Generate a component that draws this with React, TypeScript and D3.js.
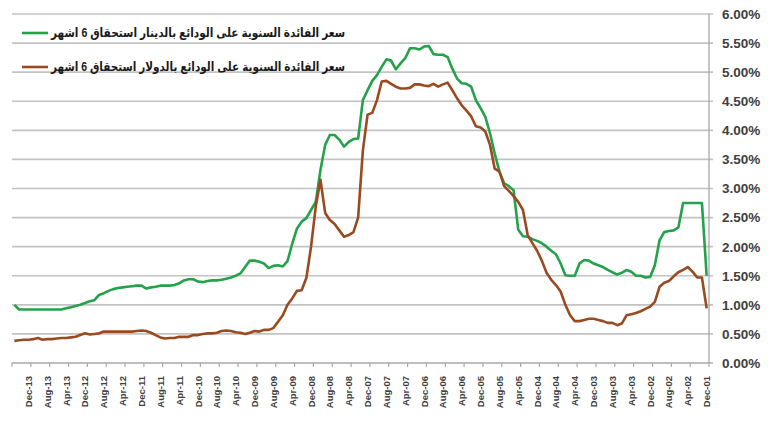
import React from 'react';
import * as d3 from 'd3';

// monthly data, Dec-01 .. Mar-14 (chronological), percent
const startMonth = new Date(2001, 11, 1);
const endMonth = new Date(2014, 3, 1);
const months = d3.timeMonth.range(startMonth, endMonth);

const dinarRate = [
  1.5, 2.75, 2.75, 2.75, 2.75, 2.75, 2.33, 2.28, 2.27, 2.25, 2.11, 1.68,
  1.48, 1.47, 1.5, 1.5, 1.57, 1.6, 1.55, 1.52, 1.56, 1.6, 1.65, 1.68,
  1.71, 1.76, 1.77, 1.71, 1.5, 1.5, 1.51, 1.71, 1.87, 1.93, 2.0, 2.06,
  2.1, 2.13, 2.17, 2.18, 2.29, 2.97, 3.04, 3.09, 3.29, 3.6, 3.95, 4.23,
  4.38, 4.52, 4.75, 4.8, 4.81, 4.89, 5.06, 5.26, 5.3, 5.3, 5.31, 5.45,
  5.44, 5.39, 5.41, 5.41, 5.24, 5.15, 5.05, 5.2, 5.22, 5.09, 4.95, 4.85,
  4.69, 4.52, 3.86, 3.85, 3.8, 3.72, 3.84, 3.92, 3.92, 3.75, 3.32, 2.77,
  2.63, 2.49, 2.43, 2.31, 2.05, 1.75, 1.66, 1.68, 1.67, 1.63, 1.71, 1.74,
  1.76, 1.76, 1.65, 1.54, 1.5, 1.47, 1.45, 1.43, 1.42, 1.42, 1.41, 1.39,
  1.4, 1.44, 1.44, 1.42, 1.37, 1.34, 1.33, 1.33, 1.33, 1.31, 1.3, 1.28,
  1.33, 1.33, 1.32, 1.31, 1.3, 1.29, 1.27, 1.24, 1.2, 1.17, 1.08, 1.06,
  1.03, 1.0, 0.98, 0.96, 0.94, 0.92, 0.92, 0.92, 0.92, 0.92, 0.92, 0.92,
  0.92, 0.92, 0.92, 1.0,
];

const dollarRate = [
  0.94, 1.47, 1.47, 1.57, 1.65, 1.6, 1.56, 1.49, 1.41, 1.38, 1.31, 1.05,
  0.97, 0.93, 0.89, 0.86, 0.84, 0.82, 0.68, 0.65, 0.69, 0.69, 0.72, 0.74,
  0.76, 0.76, 0.74, 0.72, 0.72, 0.82, 1.0, 1.23, 1.34, 1.43, 1.55, 1.76,
  1.93, 2.06, 2.2, 2.63, 2.77, 2.87, 2.96, 3.04, 3.29, 3.34, 3.75, 3.98,
  4.05, 4.07, 4.24, 4.34, 4.43, 4.55, 4.69, 4.82, 4.79, 4.75, 4.8, 4.76,
  4.77, 4.79, 4.79, 4.73, 4.72, 4.72, 4.75, 4.8, 4.85, 4.84, 4.52, 4.3,
  4.27, 3.65, 2.5, 2.25, 2.2, 2.17, 2.28, 2.39, 2.46, 2.58, 3.15, 2.69,
  2.0, 1.46, 1.25, 1.24, 1.11, 1.0, 0.82, 0.71, 0.6, 0.57, 0.57, 0.54,
  0.55, 0.52, 0.5, 0.52, 0.53, 0.55, 0.56, 0.55, 0.52, 0.51, 0.51, 0.5,
  0.48, 0.48, 0.45, 0.45, 0.45, 0.43, 0.43, 0.42, 0.44, 0.48, 0.52, 0.55,
  0.56, 0.55, 0.54, 0.54, 0.54, 0.54, 0.54, 0.54, 0.54, 0.51, 0.5, 0.49,
  0.51, 0.48, 0.45, 0.44, 0.43, 0.43, 0.42, 0.41, 0.41, 0.4, 0.43, 0.41,
  0.4, 0.4, 0.39, 0.38,
];

const yTicks = [0, 0.5, 1, 1.5, 2, 2.5, 3, 3.5, 4, 4.5, 5, 5.5, 6];
const labelEvery = 4;

const seriesNames = [
  'سعر الفائدة السنوية على الودائع بالدينار استحقاق 6 اشهر',
  'سعر الفائدة السنوية على الودائع بالدولار استحقاق 6 اشهر',
];
const seriesColors = ['#23a24a', '#9a4a20'];

const W = 770;
const H = 423;
const plot = { left: 12, right: 709, top: 14, bottom: 363 };

export default function App() {
  const idx = months.map((_, i) => String(i));
  const x = d3.scaleBand().domain(idx).range([plot.right, plot.left]).padding(0);
  const bw = x.bandwidth();
  const cx = (i: number) => (x(String(i)) as number) + bw / 2;
  const y = d3.scaleLinear().domain([0, 6]).range([plot.bottom, plot.top]);

  const line = d3
    .line<number>()
    .x((_, i) => cx(i))
    .y((d) => y(d))
    .curve(d3.curveLinear);

  const fmt = d3.timeFormat('%b-%y');
  const labelIdx = idx.map(Number).filter((i) => i % labelEvery === 0);
  const tickXs = d3.range(0, months.length + 1, labelEvery).map((i) =>
    i < months.length ? (x(String(i)) as number) + bw : (x(String(i - 1)) as number)
  );

  const font = "'Liberation Sans', Arial, 'DejaVu Sans', sans-serif";

  return (
    <svg width={W} height={H} style={{ display: 'block', position: 'absolute', left: 0, top: 0, background: '#fff' }}>
      {/* grid */}
      {yTicks.slice(1).map((t) => (
        <line key={t} x1={plot.left} x2={plot.right + 4} y1={y(t)} y2={y(t)} stroke="#c3c3c3" strokeWidth={1.6} />
      ))}
      {/* axes */}
      <line x1={plot.left} x2={plot.right} y1={plot.bottom} y2={plot.bottom} stroke="#a8a8a8" strokeWidth={1.3} />
      <line x1={plot.right} x2={plot.right} y1={plot.top} y2={plot.bottom} stroke="#a8a8a8" strokeWidth={1.3} />
      <line x1={plot.right} x2={plot.right + 4} y1={plot.bottom} y2={plot.bottom} stroke="#a8a8a8" strokeWidth={1.3} />
      {tickXs.map((tx, k) => (
        <line key={k} x1={tx} x2={tx} y1={plot.bottom} y2={plot.bottom + 4} stroke="#a8a8a8" strokeWidth={1.2} />
      ))}
      {yTicks.map((t) => (
        <text key={t} x={722} y={y(t)} dy="0.36em" fontFamily={font} fontWeight="bold" fontSize={13.5} fill="#404040">
          {t.toFixed(2) + '%'}
        </text>
      ))}
      {labelIdx.map((i) => (
        <text
          key={i}
          transform={`translate(${cx(i) + 3.5},${plot.bottom + 13}) rotate(-90)`}
          textAnchor="end"
          fontFamily={font}
          fontWeight="bold"
          fontSize={9.5}
          fill="#404040"
        >
          {fmt(months[i])}
        </text>
      ))}
      {/* lines */}
      <path d={line(dinarRate) || ''} fill="none" stroke={seriesColors[0]} strokeWidth={2.6} strokeLinejoin="round" />
      <path d={line(dollarRate) || ''} fill="none" stroke={seriesColors[1]} strokeWidth={2.6} strokeLinejoin="round" />
      {/* legend */}
      {seriesNames.map((name, k) => {
        const ly = 33 + k * 34;
        return (
          <g key={k}>
            <line x1={22} x2={48} y1={ly} y2={ly} stroke={seriesColors[k]} strokeWidth={2.6} />
            <text
              x={51}
              y={ly}
              dy="0.35em"
              textAnchor="start"
              textLength={294}
              lengthAdjust="spacingAndGlyphs"
              fontFamily={font}
              fontWeight="bold"
              fontSize={12.5}
              fill="#1a1a1a"
            >
              {name}
            </text>
          </g>
        );
      })}
    </svg>
  );
}
